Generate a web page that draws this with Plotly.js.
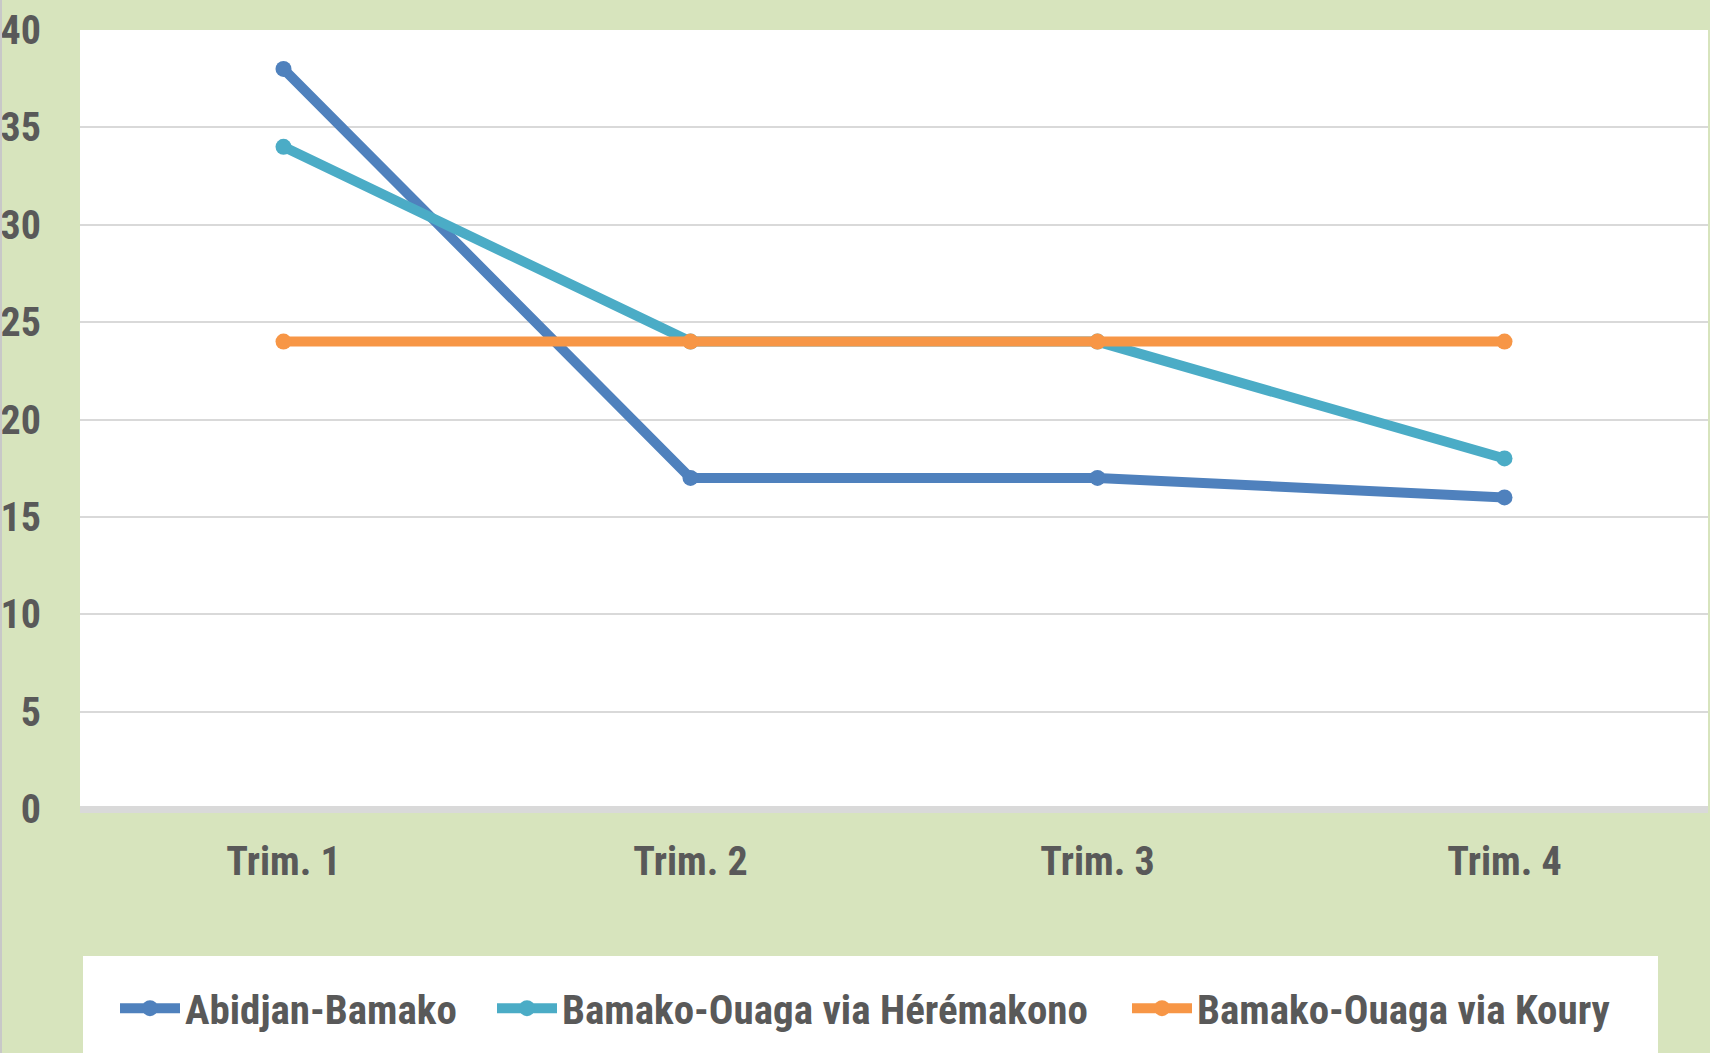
<!DOCTYPE html>
<html>
<head>
<meta charset="utf-8">
<script src="https://cdn.plot.ly/plotly-3.0.1.min.js"></script>
<style>
  html, body { margin: 0; padding: 0; background: #D7E4BD; }
  #chart { width: 1710px; height: 1053px; }
</style>
</head>
<body>
<div id="chart"></div>
<script>
const categories = ["Trim. 1", "Trim. 2", "Trim. 3", "Trim. 4"];
const seriesNames = ["Abidjan-Bamako", "Bamako-Ouaga via Hérémakono", "Bamako-Ouaga via Koury"];
const abidjanBamako = [38, 17, 17, 16];
const bamakoOuagaHeremakono = [34, 24, 24, 18];
const bamakoOuagaKoury = [24, 24, 24, 24];
const yTickValues = [0, 5, 10, 15, 20, 25, 30, 35, 40];
const colors = ["#4F81BD", "#4BACC6", "#F79646"];

const FONT = "'Roboto Condensed', 'Liberation Sans Narrow', 'Arial Narrow', sans-serif";
const TEXT = "#595959";
const FS = 40;
const LFS = 41;

const H = 1053;
const plotLeft = 80, plotRight = 1708, W = plotRight - plotLeft;
const plotTop = 30, plotBottom = 809, PH = plotBottom - plotTop;
const px = v => (v - plotLeft) / W;
const py = v => (plotBottom - v) / PH;

const legendIds = ["legend", "legend2", "legend3"];
const legendTextStarts = [185, 562, 1197];

const seriesValues = [abidjanBamako, bamakoOuagaHeremakono, bamakoOuagaKoury];
const traces = seriesValues.map((vals, i) => ({
  type: "scatter",
  mode: "lines+markers",
  name: seriesNames[i],
  legend: legendIds[i],
  x: [0, 1, 2, 3],
  y: vals,
  line: { color: colors[i], width: 10 },
  marker: { color: colors[i], size: 16 },
  hoverinfo: "x+y+name"
}));

const layout = {
  width: 1710,
  height: H,
  margin: { l: plotLeft, r: 1710 - plotRight, t: plotTop, b: H - plotBottom, pad: 0, autoexpand: false },
  paper_bgcolor: "#D7E4BD",
  plot_bgcolor: "#FFFFFF",
  font: { family: FONT, color: TEXT, size: FS, weight: "bold" },
  showlegend: true,
  xaxis: {
    range: [-0.5, 3.5],
    tickmode: "array",
    tickvals: [0, 1, 2, 3],
    ticktext: categories,
    showgrid: false,
    zeroline: false,
    showline: false,
    ticks: "",
    ticklabelstandoff: 25,
    tickfont: { family: FONT, color: TEXT, size: FS, weight: "bold" },
    fixedrange: true
  },
  yaxis: {
    range: [0, 40],
    tickmode: "array",
    tickvals: yTickValues,
    ticktext: yTickValues.map(String),
    showgrid: true,
    gridcolor: "#D9D9D9",
    gridwidth: 2,
    zeroline: true,
    zerolinecolor: "#D9D9D9",
    zerolinewidth: 7,
    showline: false,
    ticks: "",
    ticklabelstandoff: 38,
    tickfont: { family: FONT, color: TEXT, size: FS, weight: "bold" },
    fixedrange: true
  },
  shapes: [
    { type: "rect", xref: "paper", yref: "paper", x0: px(83), x1: px(1658), y0: py(1060), y1: py(956),
      layer: "below", fillcolor: "#FFFFFF", line: { width: 0 } },
    { type: "line", xref: "paper", yref: "paper", x0: px(1), x1: px(1), y0: py(1060), y1: py(-5),
      line: { color: "#C8C8C8", width: 2 } }
  ]
};

legendIds.forEach((id, i) => {
  layout[id] = {
    orientation: "h",
    x: px(legendTextStarts[i] - 70),
    xanchor: "left",
    yref: "paper",
    y: py(975),
    yanchor: "top",
    bgcolor: "rgba(0,0,0,0)",
    borderwidth: 0,
    itemwidth: 60,
    font: { family: FONT, color: TEXT, size: LFS, weight: "bold" }
  };
});

Plotly.newPlot("chart", traces, layout, { displayModeBar: false, staticPlot: true });
</script>
</body>
</html>
